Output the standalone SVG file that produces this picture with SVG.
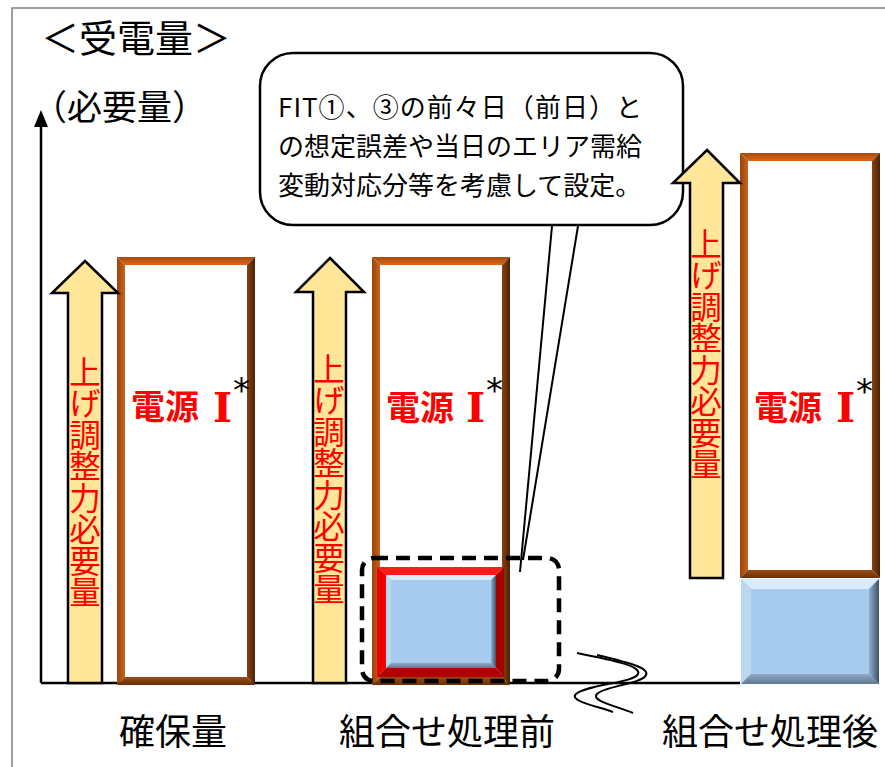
<svg xmlns="http://www.w3.org/2000/svg" width="885" height="767" viewBox="0 0 885 767">
<defs>
<style>
.jp{font-family:'Noto Sans CJK JP','Noto Sans',sans-serif;}
.frame{fill:none;stroke:#808080;stroke-width:1.5;}
.ln{fill:none;stroke:#000;stroke-width:2.5;}
.arrow{fill:#FFE699;stroke:#000;stroke-width:2.5;stroke-linejoin:miter;}
.vt{font-size:31.5px;fill:#FF0000;}
.src{font-size:34px;font-weight:bold;fill:#FF0000;}
.rom{font-family:'DejaVu Serif',serif;font-size:41px;font-weight:bold;}
.ast{font-family:'DejaVu Sans',sans-serif;font-size:34px;fill:#000;}
.lbl{font-size:36px;fill:#000;}
.bt{fill:url(#bTop);} .bl{fill:url(#bLeft);} .br{fill:url(#bRight);} .bb{fill:url(#bBot);}
.rt{fill:#FF1A1A;} .rl{fill:#F00000;} .rr{fill:#A80000;} .rb{fill:#B00000;}
.ut{fill:#D9ECFB;} .ul{fill:#BBD7F1;} .ur{fill:url(#uRight);} .ub{fill:url(#uBot);}
.uc{fill:#A7CBEE;}
.inner{fill:#FFFFFF;stroke:#E6E6E6;stroke-width:2;}
</style>
<linearGradient id="bTop" x1="0" y1="0" x2="0" y2="1"><stop offset="0" stop-color="#A8490C"/><stop offset="1" stop-color="#D8691C"/></linearGradient>
<linearGradient id="bLeft" x1="0" y1="0" x2="1" y2="0"><stop offset="0" stop-color="#9A450E"/><stop offset="1" stop-color="#C9631C"/></linearGradient>
<linearGradient id="bRight" x1="0" y1="0" x2="1" y2="0"><stop offset="0" stop-color="#8A4210"/><stop offset="1" stop-color="#4A2206"/></linearGradient>
<linearGradient id="bBot" x1="0" y1="0" x2="0" y2="1"><stop offset="0" stop-color="#9A4C14"/><stop offset="1" stop-color="#6A3008"/></linearGradient>
<linearGradient id="uRight" x1="0" y1="0" x2="1" y2="0"><stop offset="0" stop-color="#8EAED0"/><stop offset="1" stop-color="#3E5166"/></linearGradient>
<linearGradient id="uBot" x1="0" y1="0" x2="0" y2="1"><stop offset="0" stop-color="#8FAAC6"/><stop offset="1" stop-color="#5F7892"/></linearGradient>
</defs>
<rect width="885" height="767" fill="#FFFFFF"/>
<g id="frame"><path class="frame" d="M12,767 V8 H885"/></g>

<g id="title">
<text class="jp" x="136" y="52" font-size="38" text-anchor="middle">＜受電量＞</text>
<text class="jp" x="32" y="120" font-size="35">（必要量）</text>
</g>

<g id="connectors">
<path class="ln" d="M41,683 V124"/>
<polygon points="41,110 48,127 34,127" fill="#000"/>
<path class="ln" d="M41,683 H740"/>
<path fill="none" stroke="#000" stroke-width="2" d="M577,653 C612,660 642,666 638,674 C634,683 588,684 576,694 C568,701 600,707 613,712"/>
<path fill="none" stroke="#000" stroke-width="2" d="M597,655 C627,662 650,668 646,675 C642,684 604,686 597,694 C590,701 620,707 633,713"/>
<path fill="none" stroke="#000" stroke-width="2" d="M552,226 L520,572 M578,226 L523,560"/>
</g>

<g id="callout">
<rect x="260" y="53" width="423" height="172" rx="33" fill="#FFFFFF" stroke="#000" stroke-width="2.5"/>
<text class="jp" font-size="26" fill="#000">
<tspan x="278" y="117" textLength="364" lengthAdjust="spacing">FIT①、③の前々日（前日）と</tspan>
<tspan x="278" y="156">の想定誤差や当日のエリア需給</tspan>
<tspan x="278" y="195">変動対応分等を考慮して設定。</tspan>
</text>
</g>

<g id="col1-box">
<rect class="inner" x="124" y="264" width="124" height="414"/>
<polygon class="bt" points="117,257 255,257 247,265 125,265"/>
<polygon class="bl" points="117,257 125,265 125,677 117,685"/>
<polygon class="br" points="255,257 255,685 247,677 247,265"/>
<polygon class="bb" points="117,685 255,685 247,677 125,677"/>
<text class="jp src" x="131" y="419">電源<tspan class="rom" x="213" y="422">I</tspan></text>
<text class="ast" x="233" y="402">*</text>
</g>
<g id="col1-arrow">
<polygon class="arrow" points="85,261 118,293 102,293 102,683 68,683 68,293 52,293"/>
<text class="jp vt" x="85" y="356" writing-mode="vertical-rl">上げ調整力必要量</text>
</g>

<g id="col2-box">
<rect class="inner" x="379" y="264" width="124" height="414"/>
<polygon class="bt" points="372,257 510,257 502,265 380,265"/>
<polygon class="bl" points="372,257 380,265 380,677 372,685"/>
<polygon class="br" points="510,257 510,685 502,677 502,265"/>
<polygon class="bb" points="372,685 510,685 502,677 380,677"/>
<text class="jp src" x="386" y="420">電源<tspan class="rom" x="466" y="422">I</tspan></text>
<text class="ast" x="486" y="402">*</text>
</g>
<g id="col2-sub">
<polygon class="rt" points="377,567 504,567 496,575 386,575"/>
<polygon class="rl" points="377,567 386,575 386,668 377,677"/>
<polygon class="rr" points="504,567 504,677 496,668 496,575"/>
<polygon class="rb" points="377,677 504,677 496,668 386,668"/>
<rect class="uc" x="386" y="575" width="110" height="93"/>
<polygon class="ut" points="386,575 496,575 491,580 391,580"/>
<polygon class="ul" points="386,575 391,580 391,663 386,668"/>
<polygon class="ur" points="496,575 496,668 491,663 491,580"/>
<polygon class="ub" points="386,668 496,668 491,663 391,663"/>
</g>
<g id="col2-arrow">
<polygon class="arrow" points="330,258 364,292 346,292 346,683 313,683 313,292 296,292"/>
<text class="jp vt" x="329" y="353" writing-mode="vertical-rl">上げ調整力必要量</text>
</g>
<g id="col2-dashed">
<rect x="362" y="558" width="197" height="123" rx="12" fill="none" stroke="#000" stroke-width="4.5" stroke-dasharray="14 8"/>
</g>

<g id="col3-box">
<rect class="inner" x="747" y="160" width="126" height="411"/>
<polygon class="bt" points="740,153 880,153 872,161 748,161"/>
<polygon class="bl" points="740,153 748,161 748,570 740,578"/>
<polygon class="br" points="880,153 880,578 872,570 872,161"/>
<polygon class="bb" points="740,578 880,578 872,570 748,570"/>
<text class="jp src" x="754" y="420">電源<tspan class="rom" x="836" y="422">I</tspan></text>
<text class="ast" x="856" y="403">*</text>
</g>
<g id="col3-sub">
<rect class="uc" x="741" y="579" width="138" height="105"/>
<polygon class="ut" points="741,579 879,579 869,589 751,589"/>
<polygon class="ul" points="741,579 751,589 751,674 741,684"/>
<polygon class="ur" points="879,579 879,684 869,674 869,589"/>
<polygon class="ub" points="741,684 879,684 869,674 751,674"/>
</g>
<g id="col3-arrow">
<polygon class="arrow" points="707,150 740,183 723,183 723,578 690,578 690,183 673,183"/>
<text class="jp vt" x="706" y="228" writing-mode="vertical-rl">上げ調整力必要量</text>
</g>

<g id="labels">
<text class="jp lbl" x="173" y="745" text-anchor="middle">確保量</text>
<text class="jp lbl" x="447" y="745" text-anchor="middle">組合せ処理前</text>
<text class="jp lbl" x="770" y="745" text-anchor="middle">組合せ処理後</text>
</g>
</svg>
